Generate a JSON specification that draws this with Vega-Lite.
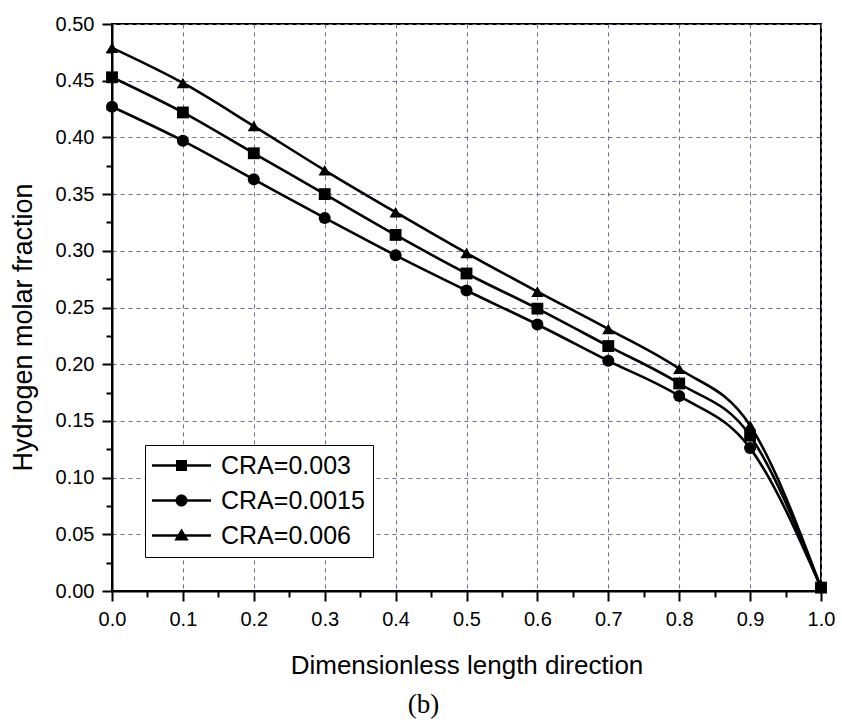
{
  "$schema": "https://vega.github.io/schema/vega-lite/v6.json",
  "width": 709,
  "height": 567,
  "autosize": "none",
  "padding": {"left": 112, "top": 24, "right": 21, "bottom": 132},
  "background": "white",
  "title": {"text": "(b)", "orient": "bottom", "anchor": "middle", "font": "Liberation Serif", "fontSize": 27, "fontWeight": "normal", "color": "black", "dx": -43, "offset": 35, "baseline": "alphabetic"},
  "config": {
    "view": {"stroke": "black", "strokeWidth": 2},
    "axis": {"domainColor": "black", "domainWidth": 2, "tickColor": "black", "tickWidth": 2, "labelFont": "Liberation Sans", "labelFontSize": 20, "labelColor": "black", "titleFont": "Liberation Sans", "titleFontWeight": "normal", "titleColor": "black", "gridColor": "#6b6b95", "gridDash": [4, 4], "gridWidth": 1, "labelOverlap": false, "labelFlush": false, "labelBound": false}
  },
  "data": {"values": [
    {"x": 0.0, "y": 0.453, "series": "CRA=0.003"},
    {"x": 0.1, "y": 0.422, "series": "CRA=0.003"},
    {"x": 0.2, "y": 0.386, "series": "CRA=0.003"},
    {"x": 0.3, "y": 0.350, "series": "CRA=0.003"},
    {"x": 0.4, "y": 0.314, "series": "CRA=0.003"},
    {"x": 0.5, "y": 0.280, "series": "CRA=0.003"},
    {"x": 0.6, "y": 0.249, "series": "CRA=0.003"},
    {"x": 0.7, "y": 0.216, "series": "CRA=0.003"},
    {"x": 0.8, "y": 0.183, "series": "CRA=0.003"},
    {"x": 0.9, "y": 0.137, "series": "CRA=0.003"},
    {"x": 1.0, "y": 0.003, "series": "CRA=0.003"},
    {"x": 0.0, "y": 0.427, "series": "CRA=0.0015"},
    {"x": 0.1, "y": 0.397, "series": "CRA=0.0015"},
    {"x": 0.2, "y": 0.363, "series": "CRA=0.0015"},
    {"x": 0.3, "y": 0.329, "series": "CRA=0.0015"},
    {"x": 0.4, "y": 0.296, "series": "CRA=0.0015"},
    {"x": 0.5, "y": 0.265, "series": "CRA=0.0015"},
    {"x": 0.6, "y": 0.235, "series": "CRA=0.0015"},
    {"x": 0.7, "y": 0.203, "series": "CRA=0.0015"},
    {"x": 0.8, "y": 0.172, "series": "CRA=0.0015"},
    {"x": 0.9, "y": 0.126, "series": "CRA=0.0015"},
    {"x": 1.0, "y": 0.003, "series": "CRA=0.0015"},
    {"x": 0.0, "y": 0.479, "series": "CRA=0.006"},
    {"x": 0.1, "y": 0.448, "series": "CRA=0.006"},
    {"x": 0.2, "y": 0.410, "series": "CRA=0.006"},
    {"x": 0.3, "y": 0.371, "series": "CRA=0.006"},
    {"x": 0.4, "y": 0.334, "series": "CRA=0.006"},
    {"x": 0.5, "y": 0.298, "series": "CRA=0.006"},
    {"x": 0.6, "y": 0.264, "series": "CRA=0.006"},
    {"x": 0.7, "y": 0.231, "series": "CRA=0.006"},
    {"x": 0.8, "y": 0.196, "series": "CRA=0.006"},
    {"x": 0.9, "y": 0.146, "series": "CRA=0.006"},
    {"x": 1.0, "y": 0.003, "series": "CRA=0.006"}
  ]},
  "encoding": {
    "x": {"field": "x", "type": "quantitative", "scale": {"domain": [0, 1], "nice": false, "zero": false},
      "axis": {"title": "Dimensionless length direction", "titleFontSize": 26, "titleY": 82, "titleBaseline": "alphabetic",
        "values": [0, 0.05, 0.1, 0.15, 0.2, 0.25, 0.3, 0.35, 0.4, 0.45, 0.5, 0.55, 0.6, 0.65, 0.7, 0.75, 0.8, 0.85, 0.9, 0.95, 1.0],
        "labelExpr": "abs(datum.value*10-round(datum.value*10))<0.001 ? format(datum.value,'.1f') : ''",
        "tickSize": {"condition": {"test": "abs(datum.value*10-round(datum.value*10))<0.001", "value": 10}, "value": 6},
        "gridOpacity": {"condition": {"test": "abs(datum.value*10-round(datum.value*10))<0.001", "value": 1}, "value": 0},
        "labelPadding": 8}},
    "y": {"field": "y", "type": "quantitative", "scale": {"domain": [0, 0.5], "nice": false},
      "axis": {"title": "Hydrogen molar fraction", "titleFontSize": 27, "titleX": -89, "titleY": 303, "titleBaseline": "middle",
        "values": [0, 0.025, 0.05, 0.075, 0.1, 0.125, 0.15, 0.175, 0.2, 0.225, 0.25, 0.275, 0.3, 0.325, 0.35, 0.375, 0.4, 0.425, 0.45, 0.475, 0.5],
        "labelExpr": "abs(datum.value*20-round(datum.value*20))<0.001 ? format(datum.value,'.2f') : ''",
        "tickSize": {"condition": {"test": "abs(datum.value*20-round(datum.value*20))<0.001", "value": 10}, "value": 6},
        "gridOpacity": {"condition": {"test": "abs(datum.value*20-round(datum.value*20))<0.001", "value": 1}, "value": 0},
        "labelPadding": 8}}
  },
  "layer": [
    {"mark": {"type": "line", "interpolate": "monotone", "color": "black", "strokeWidth": 2.6},
     "encoding": {"detail": {"field": "series"}}},
    {"mark": {"type": "point", "filled": true, "color": "black", "opacity": 1},
     "encoding": {
       "shape": {"field": "series", "type": "nominal",
         "scale": {"domain": ["CRA=0.003", "CRA=0.0015", "CRA=0.006"], "range": ["square", "circle", "triangle-up"]}, "legend": null},
       "size": {"field": "series", "type": "nominal",
         "scale": {"domain": ["CRA=0.003", "CRA=0.0015", "CRA=0.006"], "range": [140, 150, 260]}, "legend": null}}},
    {"mark": {"type": "point", "filled": true, "color": "black", "opacity": 0},
     "encoding": {"shape": {"field": "series", "type": "nominal",
       "scale": {"domain": ["CRA=0.003", "CRA=0.0015", "CRA=0.006"], "range": [
         "M-2.95,-0.12H2.95V0.12H-2.95Z M-0.55,-0.55H0.55V0.55H-0.55Z",
         "M-2.95,-0.12H2.95V0.12H-2.95Z M0.6,0A0.6,0.6,0,1,1,-0.6,0A0.6,0.6,0,1,1,0.6,0Z",
         "M-2.95,-0.12H2.95V0.12H-2.95Z M0,-0.7L0.72,0.5H-0.72Z"]},
       "legend": {"title": null, "orient": "none", "legendX": 33, "legendY": 421, "symbolSize": 400, "symbolOpacity": 1, "symbolFillColor": "black", "symbolStrokeColor": "black", "symbolStrokeWidth": 0, "labelFont": "Liberation Sans", "labelFontSize": 25, "labelColor": "black", "strokeColor": "black", "fillColor": "white", "padding": 8, "rowPadding": 9, "symbolOffset": 16, "labelOffset": 27, "labelLimit": 300}}}}
  ],
  "resolve": {"scale": {"shape": "independent", "size": "independent"}, "legend": {"shape": "independent", "size": "independent"}}
}
